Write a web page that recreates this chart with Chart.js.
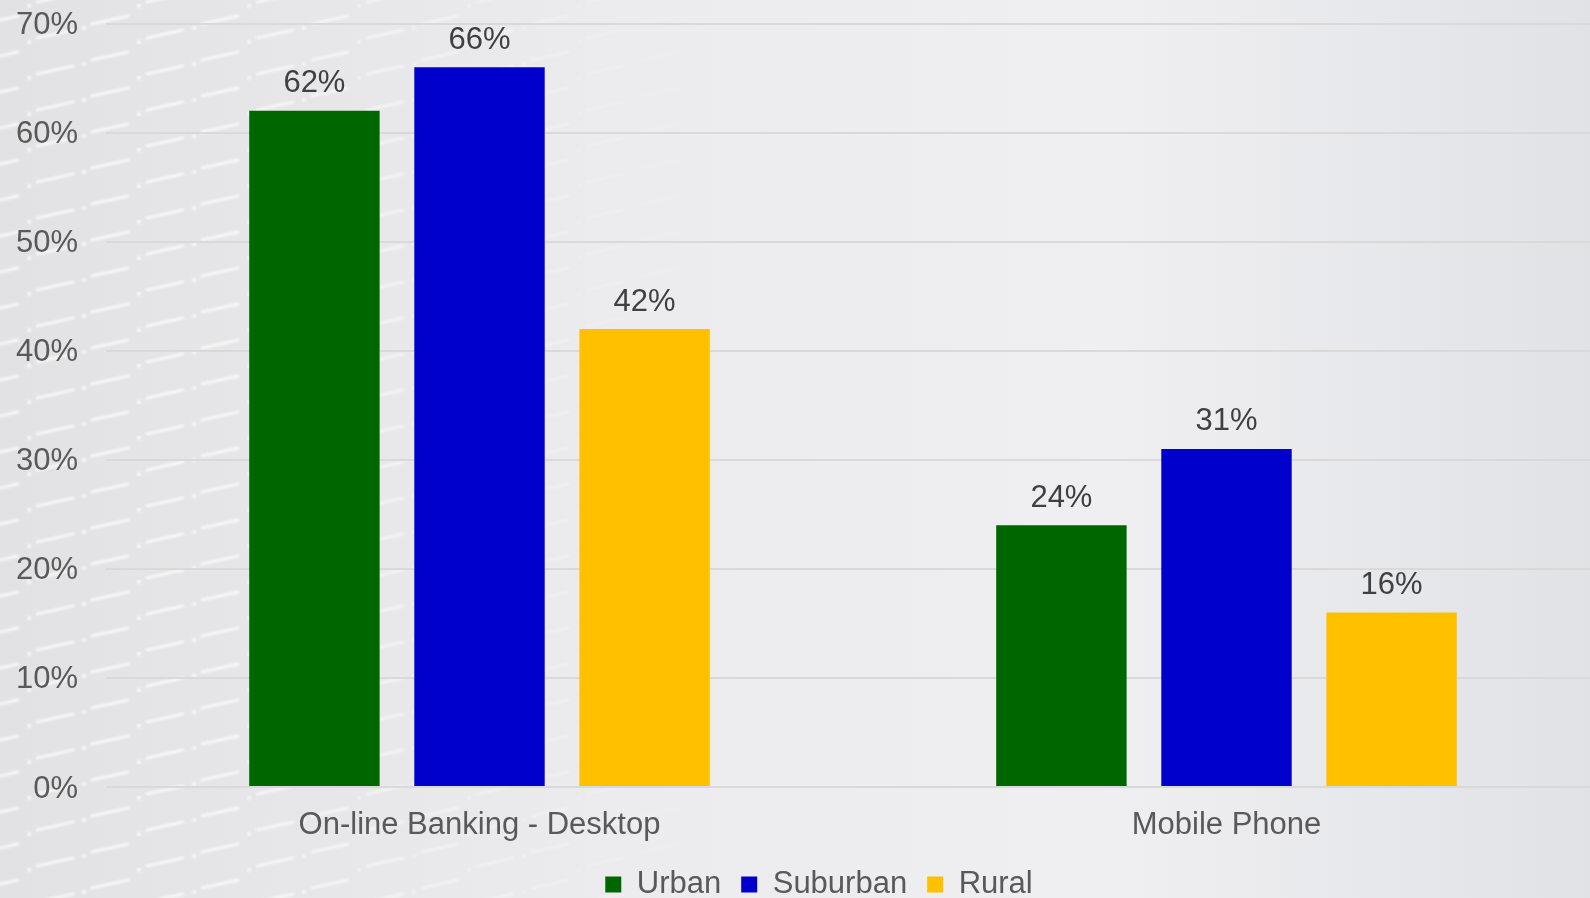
<!DOCTYPE html>
<html>
<head>
<meta charset="utf-8">
<script src="https://cdn.jsdelivr.net/npm/chart.js@4.4.1/dist/chart.umd.min.js"></script>
<style>
    html, body { margin: 0; padding: 0; overflow: hidden; width: 1590px; height: 898px; background: #e9e9eb; }
    #wrap { position: absolute; left: 0; top: 0; width: 1600px; height: 910px; }
</style>
</head>
<body>
<div id="wrap"><canvas id="usageChart"></canvas></div>
<script>
// Channel usage by area type (percent)
const channels = ['On-line Banking - Desktop', 'Mobile Phone'];
const urban = [62, 24];
const suburban = [66, 31];
const rural = [42, 16];
const yTicks = [0, 10, 20, 30, 40, 50, 60, 70];

const FONT = '"Liberation Sans", Arial, sans-serif';

// Soft grey backdrop with the slanted-dash texture on the left side
const backdrop = {
    id: 'backdrop',
    beforeDraw(chart) {
        const { ctx, width, height } = chart;
        ctx.save();
        const g = ctx.createLinearGradient(0, 0, width, 0);
        g.addColorStop(0, '#e2e2e4');
        g.addColorStop(0.4, '#ececee');
        g.addColorStop(0.7, '#efeff1');
        g.addColorStop(1, '#e1e2e6');
        ctx.fillStyle = g;
        ctx.fillRect(0, 0, width, height);

        ctx.lineCap = 'round';
        ctx.filter = 'blur(0.8px)';
        for (let x0 = -30, c = 0; x0 < 720; x0 += 55, c++) {
            const a = Math.max(0, 1 - Math.max(0, x0 - 200) / 520);
            for (let y0 = (c % 2) * 14 - 20; y0 < height + 20; y0 += 36) {
                ctx.strokeStyle = `rgba(255,255,255,${0.7 * a})`;
                ctx.lineWidth = 3;
                ctx.beginPath();
                ctx.moveTo(x0 + 12, y0 + 8);
                ctx.lineTo(x0 + 48, y0);
                ctx.stroke();
                ctx.fillStyle = `rgba(255,255,255,${0.65 * a})`;
                ctx.fillRect(x0 + 2, y0 + 10, 4, 4);
            }
        }
        ctx.restore();
    }
};

// Percent value above each bar
const barValues = {
    id: 'barValues',
    afterDatasetsDraw(chart) {
        const { ctx } = chart;
        ctx.save();
        ctx.font = `31px ${FONT}`;
        ctx.fillStyle = '#404040';
        ctx.textAlign = 'center';
        ctx.textBaseline = 'middle';
        chart.data.datasets.forEach((ds, i) => {
            chart.getDatasetMeta(i).data.forEach((bar, j) => {
                ctx.fillText(ds.data[j] + '%', bar.x, bar.y - 27);
            });
        });
        ctx.restore();
    }
};

// nudge the legend row a little to the right
const legendShift = {
    id: 'legendShift',
    afterLayout(chart) {
        if (chart.legend) {
            chart.legend.left += 19;
            chart.legend.right += 19;
        }
    }
};

const ctx = document.getElementById('usageChart').getContext('2d');
new Chart(ctx, {
    type: 'bar',
    data: {
        labels: channels,
        datasets: [
            { label: 'Urban', data: urban, backgroundColor: '#006600' },
            { label: 'Suburban', data: suburban, backgroundColor: '#0000cc' },
            { label: 'Rural', data: rural, backgroundColor: '#ffc000' }
        ]
    },
    options: {
        responsive: true,
        maintainAspectRatio: false,
        animation: false,
        layout: { padding: 0 },
        datasets: { bar: { categoryPercentage: 0.663, barPercentage: 0.79 } },
        scales: {
            x: {
                grid: { display: false },
                border: { display: false },
                ticks: { color: '#595959', font: { family: FONT, size: 31 }, padding: 12 },
                afterFit: s => { s.height = 62; }
            },
            y: {
                min: 0,
                max: 70,
                afterBuildTicks: s => { s.ticks = yTicks.map(v => ({ value: v })); },
                // invisible tick marks keep the labels away from the plot
                grid: { color: '#d9d9d9', lineWidth: 2, drawTicks: true, tickLength: 23, tickColor: 'rgba(0,0,0,0)' },
                border: { display: false },
                ticks: {
                    color: '#595959',
                    font: { family: FONT, size: 31 },
                    padding: 5,
                    labelOffset: 2,
                    callback: v => v + '%'
                },
                afterFit: s => { s.width = 106; }
            }
        },
        plugins: {
            legend: {
                position: 'bottom',
                labels: {
                    boxWidth: 16,
                    boxHeight: 16,
                    padding: 20,
                    color: '#595959',
                    font: { family: FONT, size: 31 }
                }
            },
            tooltip: { enabled: false }
        }
    },
    plugins: [backdrop, barValues, legendShift]
});
</script>
</body>
</html>
